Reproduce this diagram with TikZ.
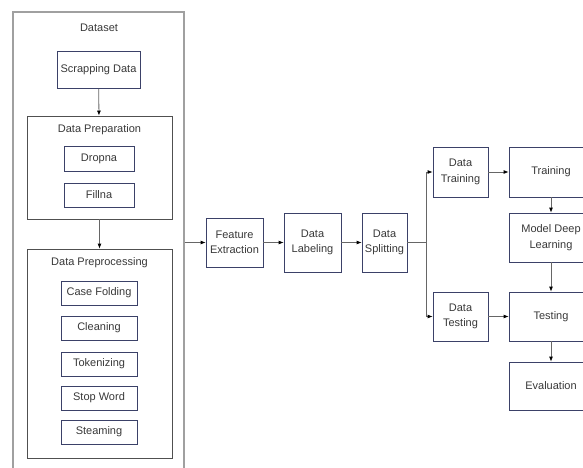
\documentclass[tikz,border=0pt]{standalone}
\usepackage{fontspec}
\setmainfont{Liberation Sans}
\usepackage{xcolor}
\usepackage{tikz}
\usetikzlibrary{arrows.meta}
\definecolor{frame}{HTML}{A0A0A0}
\definecolor{group}{HTML}{505050}
\definecolor{leaf}{HTML}{3B4168}
\definecolor{wire}{HTML}{666666}
\definecolor{ink}{HTML}{383838}
\tikzset{
  outerBox/.style={draw=frame, line width=1.2pt, rectangle, inner sep=0pt},
  groupBox/.style={draw=group, line width=0.8pt, rectangle, inner sep=0pt},
  leafBox/.style={draw=leaf, line width=0.8pt, rectangle, inner sep=2pt, align=center},
  titleLbl/.style={text=ink},
  flow/.style={draw=wire, line width=0.8pt, -{Latex[length=5pt,width=4pt,fill=black,color=black]}},
  plain/.style={draw=wire, line width=0.8pt},
}

\begin{document}
\begin{tikzpicture}[x=1pt, y=-1pt, every node/.style={text=ink, font=\fontsize{11}{15.5}\selectfont}]
  \clip (0,0) rectangle (583,468);

  % dataset column
  \node[outerBox, minimum width=171pt, minimum height=470pt] (dataset) at (98.5,247) {};
  \node[titleLbl] (datasetLbl) at (99,27.5) {Dataset};
  \node[leafBox, minimum width=83pt, minimum height=37pt] (scrap) at (98.5,70) {Scrapping Data};

  \node[groupBox, minimum width=145pt, minimum height=103pt] (prep) at (99.5,167.5) {};
  \node[titleLbl] (prepLbl) at (99.5,129.5) {Data Preparation};
  \node[leafBox, minimum width=70pt, minimum height=25pt] (dropna) at (99,158.5) {Dropna};
  \node[leafBox, minimum width=70pt, minimum height=24pt] (fillna) at (99,195) {Fillna};

  \node[groupBox, minimum width=145pt, minimum height=209pt] (preproc) at (99.5,353.5) {};
  \node[titleLbl] (preprocLbl) at (99.5,262.5) {Data Preprocessing};
  \node[leafBox, minimum width=76pt, minimum height=24pt] (casefold) at (99,293) {Case Folding};
  \node[leafBox, minimum width=76pt, minimum height=24pt] (clean) at (99,328) {Cleaning};
  \node[leafBox, minimum width=76pt, minimum height=24pt] (token) at (99,364) {Tokenizing};
  \node[leafBox, minimum width=76pt, minimum height=24pt] (stopword) at (99,398) {Stop Word};
  \node[leafBox, minimum width=76pt, minimum height=24pt] (steam) at (99,432) {Steaming};

  % main pipeline
  \node[leafBox, minimum width=57pt, minimum height=49pt] (feat) at (234.5,242.5) {Feature\\Extraction};
  \node[leafBox, minimum width=57pt, minimum height=59pt] (label) at (312.5,242.5) {Data\\Labeling};
  \node[leafBox, minimum width=45pt, minimum height=59pt] (split) at (384.5,242.5) {Data\\Splitting};
  \coordinate (fork) at (426,242.5);

  \node[leafBox, minimum width=55pt, minimum height=50pt] (dtrain) at (460.5,172) {Data\\Training};
  \node[leafBox, minimum width=55pt, minimum height=49pt] (dtest) at (460.5,316.5) {Data\\Testing};
  \node[leafBox, minimum width=84pt, minimum height=50pt] (train) at (551,172) {Training};
  \node[leafBox, minimum width=84pt, minimum height=49pt] (model) at (551,237.5) {Model Deep\\Learning};
  \node[leafBox, minimum width=84pt, minimum height=49pt] (test) at (551,316.5) {Testing};
  \node[leafBox, minimum width=84pt, minimum height=48pt] (eval) at (551,386) {Evaluation};

  % connectors
  \draw[flow] (scrap) -- (prep);
  \draw[flow] (prep) -- (preproc);
  \draw[flow] (feat.west -| dataset.east) -- (feat);
  \draw[flow] (feat) -- (label);
  \draw[flow] (label) -- (split);
  \draw[plain] (split) -- (fork);
  \draw[flow] (fork) |- (dtrain);
  \draw[flow] (fork) |- (dtest);
  \draw[flow] (dtrain) -- (train);
  \draw[flow] (dtest) -- (test);
  \draw[flow] (train) -- (model);
  \draw[flow] (model) -- (test);
  \draw[flow] (test) -- (eval);
\end{tikzpicture}
\end{document}
